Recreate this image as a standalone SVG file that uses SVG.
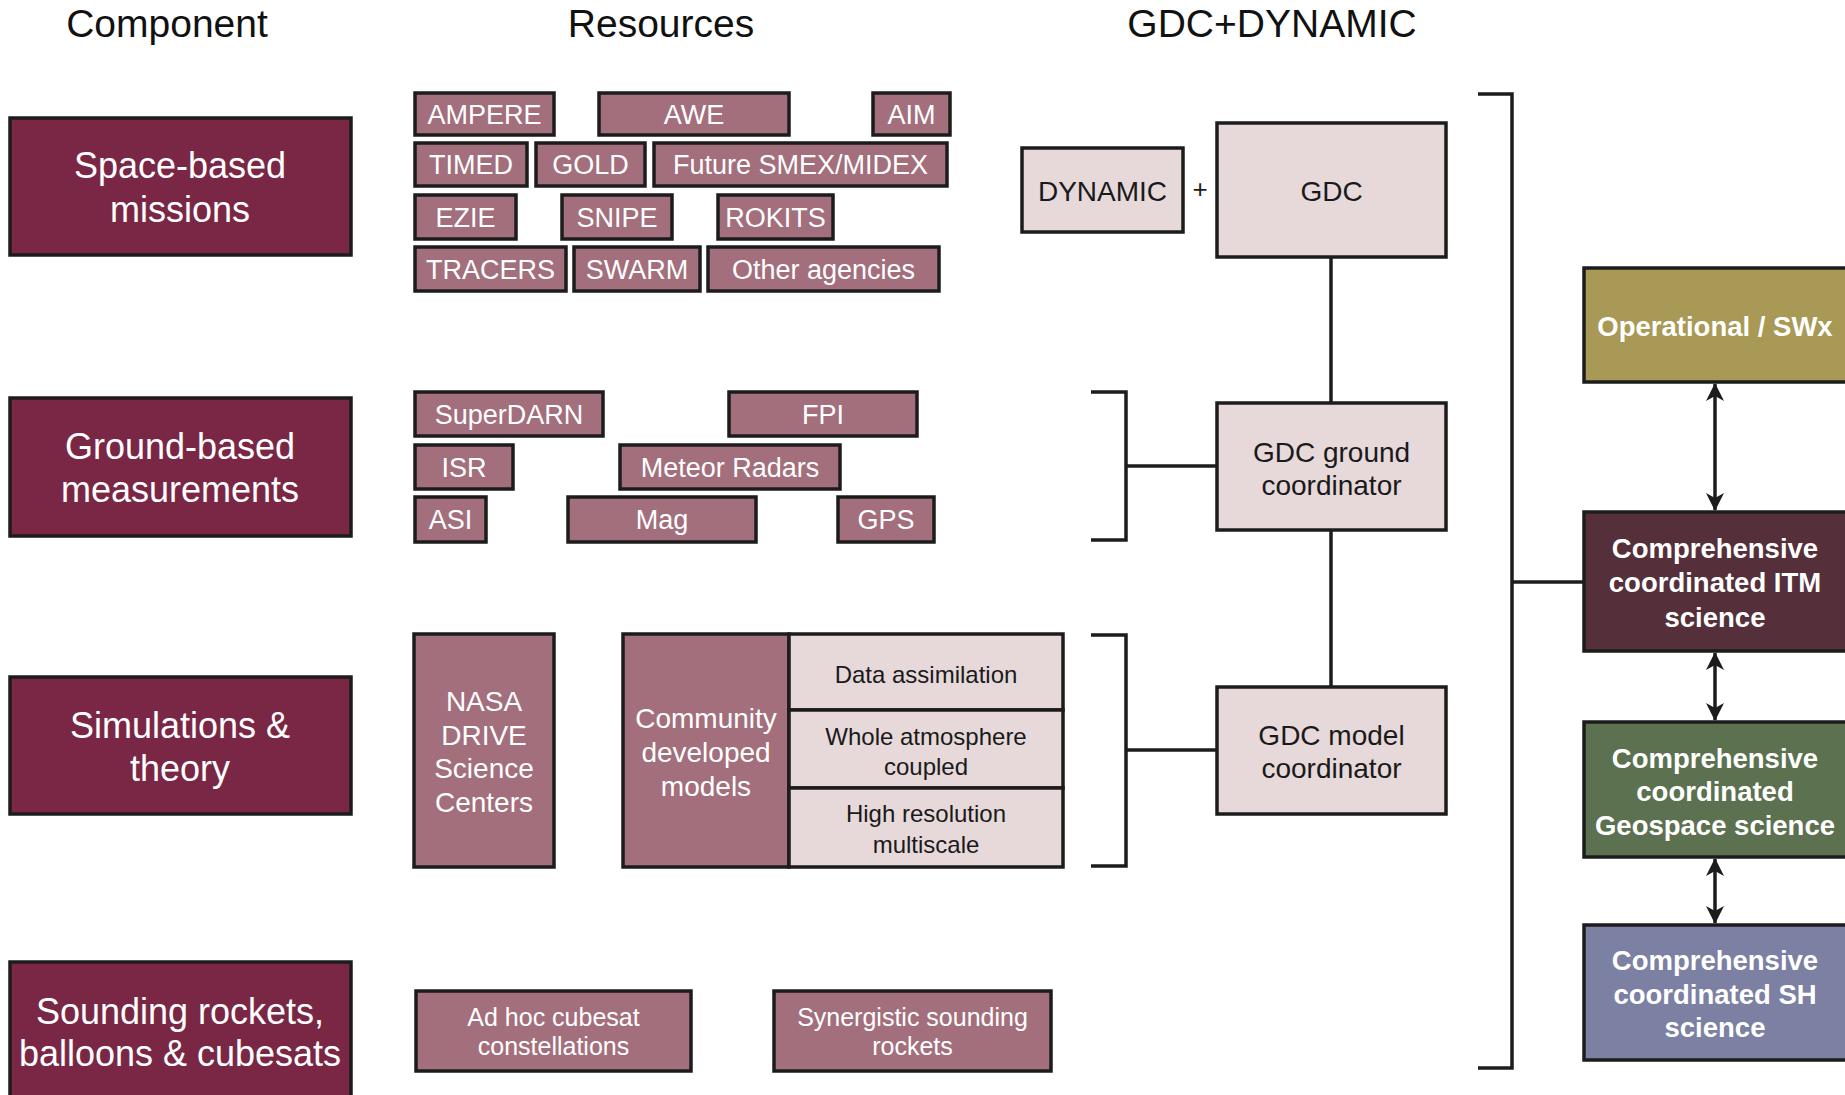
<svg xmlns="http://www.w3.org/2000/svg" width="1845" height="1095" viewBox="0 0 1845 1095">
<defs>
<style>
text{font-family:"Liberation Sans",Arial,Helvetica,sans-serif;text-anchor:middle}
.title{font-size:39px;fill:#111}
.comp rect{fill:#7a2746;stroke:#1c1c1c;stroke-width:3.5}
.comp text{font-size:36px;fill:#fff}
.res rect{fill:#a36f7c;stroke:#1c1c1c;stroke-width:3.5}
.res text{font-size:27px;fill:#fff}
.res2 text{font-size:25px;fill:#fff}
.res3 text{font-size:28px;fill:#fff}
.pink rect{fill:#e7d9da;stroke:#1c1c1c;stroke-width:3.5}
.pink text{font-size:28px;fill:#1a1a1a}
.cell text{font-size:24px;fill:#1a1a1a}
.out rect{stroke:#1c1c1c;stroke-width:3.5}
.out text{font-size:27.5px;font-weight:bold;fill:#fff}
.ln{fill:none;stroke:#1c1c1c;stroke-width:3.5}
</style>
<marker id="ah" viewBox="0 0 18 18" markerWidth="18" markerHeight="18" refX="17" refY="9" orient="auto-start-reverse" markerUnits="userSpaceOnUse">
<path d="M0,0 L18,9 L0,18 L5,9 z" fill="#1c1c1c"/>
</marker>
</defs>
<rect x="0" y="0" width="1845" height="1095" fill="#fff"/>

<g id="titles">
<text class="title" x="167" y="37">Component</text>
<text class="title" x="661" y="37">Resources</text>
<text class="title" x="1272" y="37">GDC+DYNAMIC</text>
</g>

<!-- Component boxes -->
<g id="space-based" class="comp"><rect x="10" y="118" width="341" height="137"/><text x="180" y="178">Space-based</text><text x="180" y="222">missions</text></g>
<g id="ground-based" class="comp"><rect x="10" y="398" width="341" height="138"/><text x="180" y="459">Ground-based</text><text x="180" y="502">measurements</text></g>
<g id="simulations" class="comp"><rect x="10" y="677" width="341" height="137"/><text x="180" y="738">Simulations &amp;</text><text x="180" y="781">theory</text></g>
<g id="sounding" class="comp"><rect x="10" y="962" width="341" height="140"/><text x="180" y="1024">Sounding rockets,</text><text x="180" y="1066">balloons &amp; cubesats</text></g>

<!-- Space-based resources -->
<g id="ampere" class="res"><rect x="415" y="93" width="139" height="42"/><text x="484.5" y="124">AMPERE</text></g>
<g id="awe" class="res"><rect x="599" y="93" width="190" height="42"/><text x="694" y="124">AWE</text></g>
<g id="aim" class="res"><rect x="873" y="93" width="77" height="42"/><text x="911.5" y="124">AIM</text></g>
<g id="timed" class="res"><rect x="415" y="143" width="112" height="43"/><text x="471" y="174">TIMED</text></g>
<g id="gold" class="res"><rect x="536" y="143" width="109" height="43"/><text x="590.5" y="174">GOLD</text></g>
<g id="future" class="res"><rect x="654" y="143" width="293" height="43"/><text x="800.5" y="174">Future SMEX/MIDEX</text></g>
<g id="ezie" class="res"><rect x="415" y="195" width="101" height="44"/><text x="465.5" y="227">EZIE</text></g>
<g id="snipe" class="res"><rect x="562" y="195" width="110" height="44"/><text x="617" y="227">SNIPE</text></g>
<g id="rokits" class="res"><rect x="718" y="195" width="115" height="44"/><text x="775.5" y="227">ROKITS</text></g>
<g id="tracers" class="res"><rect x="415" y="247" width="151" height="44"/><text x="490.5" y="279">TRACERS</text></g>
<g id="swarm" class="res"><rect x="574" y="247" width="126" height="44"/><text x="637" y="279">SWARM</text></g>
<g id="other" class="res"><rect x="708" y="247" width="231" height="44"/><text x="823.5" y="279">Other agencies</text></g>

<!-- Ground resources -->
<g id="superdarn" class="res"><rect x="415" y="392" width="188" height="44"/><text x="509" y="424">SuperDARN</text></g>
<g id="fpi" class="res"><rect x="729" y="392" width="188" height="44"/><text x="823" y="424">FPI</text></g>
<g id="isr" class="res"><rect x="415" y="445" width="98" height="44"/><text x="464" y="477">ISR</text></g>
<g id="meteor" class="res"><rect x="620" y="445" width="220" height="44"/><text x="730" y="477">Meteor Radars</text></g>
<g id="asi" class="res"><rect x="415" y="497" width="71" height="45"/><text x="450.5" y="529">ASI</text></g>
<g id="mag" class="res"><rect x="568" y="497" width="188" height="45"/><text x="662" y="529">Mag</text></g>
<g id="gps" class="res"><rect x="838" y="497" width="96" height="45"/><text x="886" y="529">GPS</text></g>

<!-- Simulation resources -->
<g id="nasa-drive" class="res res3"><rect x="414" y="634" width="140" height="233"/><text x="484" y="711">NASA</text><text x="484" y="745">DRIVE</text><text x="484" y="778">Science</text><text x="484" y="812">Centers</text></g>
<g id="community" class="res res3"><rect x="623" y="634" width="166" height="233"/><text x="706" y="728">Community</text><text x="706" y="762">developed</text><text x="706" y="796">models</text></g>
<g id="data-assim" class="pink cell"><rect x="789" y="634" width="274" height="76"/><text x="926" y="683">Data assimilation</text></g>
<g id="whole-atm" class="pink cell"><rect x="789" y="710" width="274" height="78"/><text x="926" y="745">Whole atmosphere</text><text x="926" y="775">coupled</text></g>
<g id="high-res" class="pink cell"><rect x="789" y="788" width="274" height="79"/><text x="926" y="822">High resolution</text><text x="926" y="853">multiscale</text></g>

<!-- Sounding resources -->
<g id="adhoc" class="res res2"><rect x="416" y="991" width="275" height="80"/><text x="553.5" y="1026">Ad hoc cubesat</text><text x="553.5" y="1055">constellations</text></g>
<g id="synergistic" class="res res2"><rect x="774" y="991" width="277" height="80"/><text x="912.5" y="1026">Synergistic sounding</text><text x="912.5" y="1055">rockets</text></g>

<!-- GDC column -->
<g id="dynamic" class="pink"><rect x="1022" y="148" width="161" height="84"/><text x="1102.5" y="201">DYNAMIC</text></g>
<g id="plus"><text x="1200" y="198" style="font-size:26px;fill:#1a1a1a">+</text></g>
<g id="gdc" class="pink"><rect x="1217" y="123" width="229" height="134"/><text x="1331.5" y="201">GDC</text></g>
<g id="gdc-ground" class="pink"><rect x="1217" y="403" width="229" height="127"/><text x="1331.5" y="462">GDC ground</text><text x="1331.5" y="495">coordinator</text></g>
<g id="gdc-model" class="pink"><rect x="1217" y="687" width="229" height="127"/><text x="1331.5" y="745">GDC model</text><text x="1331.5" y="778">coordinator</text></g>

<!-- Outcome boxes -->
<g id="operational" class="out"><rect x="1584" y="268" width="266" height="114" fill="#a89956"/><text x="1715" y="336">Operational / SWx</text></g>
<g id="itm" class="out"><rect x="1584" y="512" width="266" height="139" fill="#55303a"/><text x="1715" y="558">Comprehensive</text><text x="1715" y="592">coordinated ITM</text><text x="1715" y="627">science</text></g>
<g id="geospace" class="out"><rect x="1584" y="722" width="266" height="135" fill="#5b7150"/><text x="1715" y="768">Comprehensive</text><text x="1715" y="801">coordinated</text><text x="1715" y="835">Geospace science</text></g>
<g id="sh" class="out"><rect x="1584" y="925" width="266" height="135" fill="#7c80a3"/><text x="1715" y="970">Comprehensive</text><text x="1715" y="1004">coordinated SH</text><text x="1715" y="1037">science</text></g>

<!-- Connectors -->
<g id="connectors">
<line class="ln" x1="1331" y1="257" x2="1331" y2="403"/>
<line class="ln" x1="1331" y1="530" x2="1331" y2="687"/>
<polyline class="ln" points="1091,392 1126,392 1126,540 1091,540"/>
<line class="ln" x1="1126" y1="466" x2="1217" y2="466"/>
<polyline class="ln" points="1091,635 1126,635 1126,866 1091,866"/>
<line class="ln" x1="1126" y1="750" x2="1217" y2="750"/>
<polyline class="ln" points="1478,94 1512,94 1512,1068 1478,1068"/>
<line class="ln" x1="1512" y1="582" x2="1584" y2="582"/>
<line class="ln" x1="1715" y1="384" x2="1715" y2="510" marker-start="url(#ah)" marker-end="url(#ah)"/>
<line class="ln" x1="1715" y1="653" x2="1715" y2="720" marker-start="url(#ah)" marker-end="url(#ah)"/>
<line class="ln" x1="1715" y1="859" x2="1715" y2="923" marker-start="url(#ah)" marker-end="url(#ah)"/>
</g>
</svg>
